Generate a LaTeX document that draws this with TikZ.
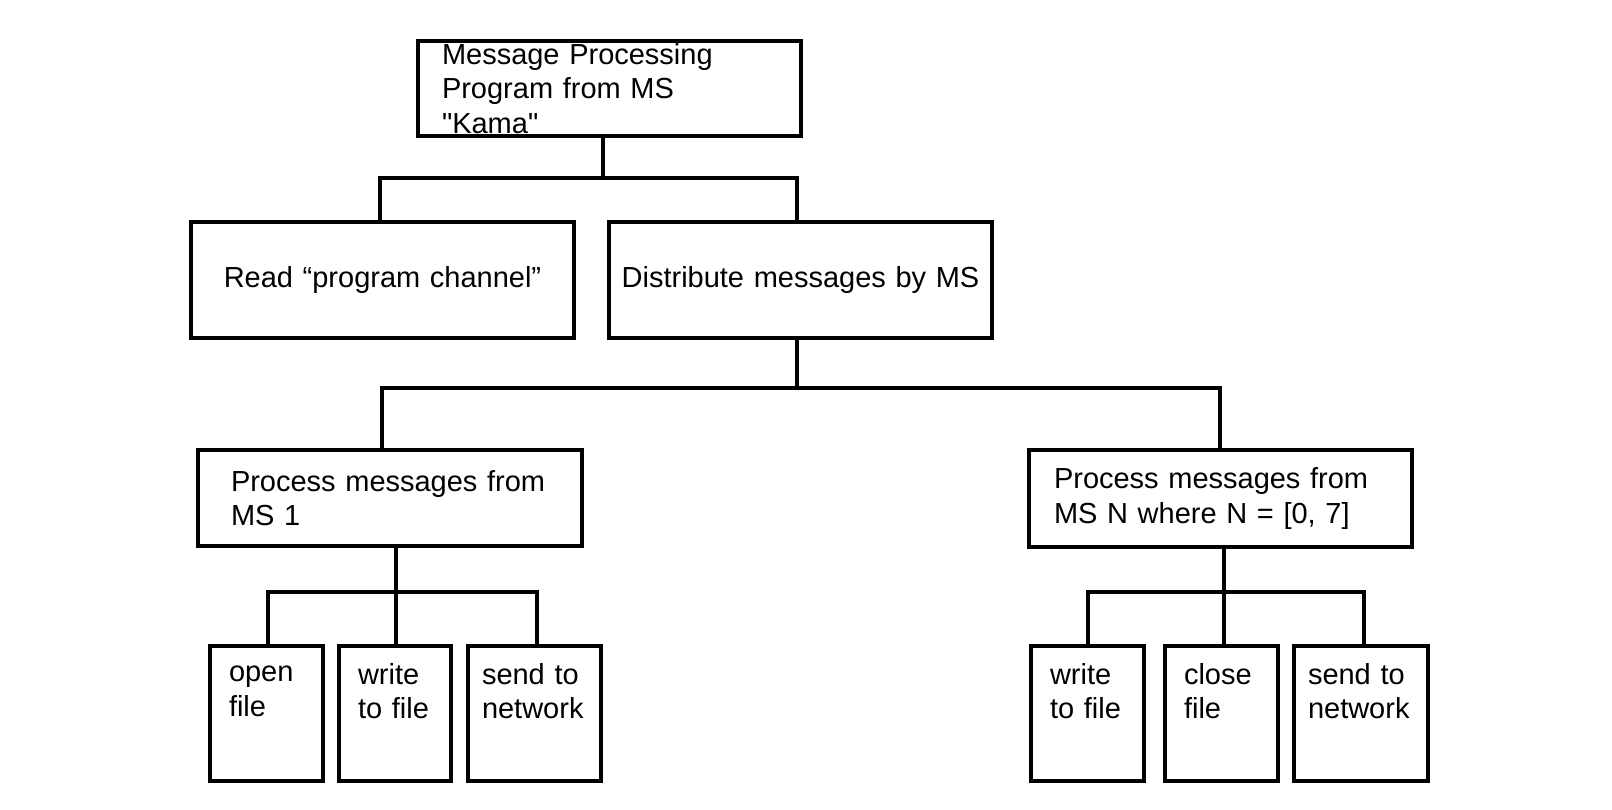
\documentclass[tikz,border=0pt]{standalone}
\usepackage{fontspec}
\setmainfont{Liberation Sans}
% name, x1, y1, x2, y2, left pad, align, text
\newcommand\bx[8]{%
  \pgfmathsetmacro\bxw{(#4-#2)*0.02}%
  \pgfmathsetmacro\bxh{(#5-#3)*0.02}%
  \pgfmathsetmacro\bxt{(#4-#2-2*#6)*0.02}%
  \node[box,minimum width=\bxw cm,minimum height=\bxh cm,text width=\bxt cm,align=#7]
    (#1) at ({(#2+#4)/2},{(#3+#5)/2}) {#8};}
\begin{document}
\begin{tikzpicture}[x=0.02cm,y=-0.02cm,
  box/.style={rectangle,draw,line width=2.2pt,inner sep=0pt,
    font=\fontsize{16.5}{19.5}\selectfont},
  link/.style={line width=2.2pt}]
  \useasboundingbox (0,0) rectangle (1612,809);
  % boxes
  \bx{main}{418}{41}{801}{136}{24}{left}{Message Processing\\Program from MS \textquotedbl Kama\textquotedbl}
  \bx{read}{191}{222}{574}{338}{10}{center}{Read “program channel”}
  \bx{dist}{609}{222}{992}{338}{6}{center}{Distribute messages by MS}
  \bx{one}{198}{450}{582}{546}{33}{left}{Process messages from\\MS 1}
  \bx{many}{1029}{450}{1412}{547}{25}{left}{Process messages from\\MS N where N = [0, 7]}
  \bx{open}{210}{646}{323}{781}{19}{left}{open\\file\\\strut}
  \bx{wrone}{339}{646}{451}{781}{19}{left}{write\\to file\\\strut}
  \bx{sdone}{468}{646}{601}{781}{14}{left}{send to\\network\\\strut}
  \bx{wrmany}{1031}{646}{1144}{781}{19}{left}{write\\to file\\\strut}
  \bx{close}{1165}{646}{1278}{781}{19}{left}{close\\file\\\strut}
  \bx{sdmany}{1294}{646}{1428}{781}{14}{left}{send to\\network\\\strut}
  % connectors
  \coordinate (b1) at (603,178);
  \draw[link] (main.south -| b1) -- (b1);
  \draw[link] (read.north -| 380,0) |- (b1) -| (dist.north -| 797,0);
  \coordinate (b2) at (797,388);
  \draw[link] (dist.south -| b2) -- (b2);
  \draw[link] (one.north -| 382,0) |- (b2) -| (many.north -| 1220,0);
  \coordinate (b3) at (396,592);
  \draw[link] (one.south -| b3) -- (b3);
  \draw[link] (open.north -| 268,0) |- (b3) -| (sdone.north -| 537,0);
  \draw[link] (b3) -- (wrone.north -| b3);
  \coordinate (b4) at (1224,592);
  \draw[link] (many.south -| b4) -- (b4);
  \draw[link] (wrmany.north -| 1088,0) |- (b4) -| (sdmany.north -| 1364,0);
  \draw[link] (b4) -- (close.north -| b4);
\end{tikzpicture}
\end{document}
